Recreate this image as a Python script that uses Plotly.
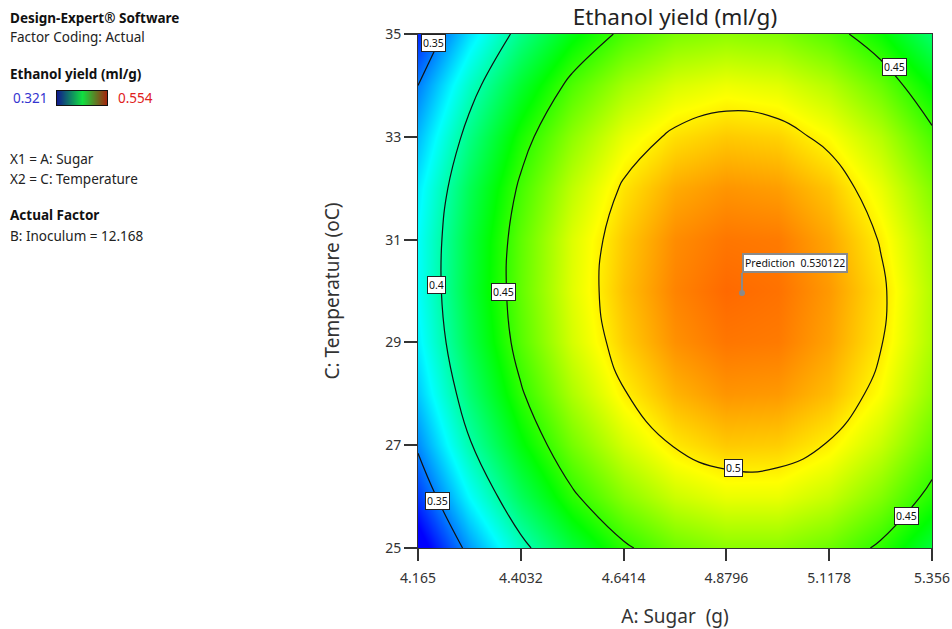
import plotly.graph_objects as go

# ---------------- data ----------------
sugar = [4.165, 4.2841, 4.4032, 4.5223, 4.6414, 4.7605, 4.8796, 4.9987, 5.1178, 5.2369, 5.356]
temperature = [25, 26, 27, 28, 29, 30, 31, 32, 33, 34, 35]
# ethanol yield (ml/g); rows = temperature, columns = sugar
yield_grid = [
    [0.311, 0.356, 0.394, 0.424, 0.447, 0.462, 0.469, 0.469, 0.462, 0.447, 0.424],
    [0.334, 0.379, 0.417, 0.447, 0.469, 0.484, 0.491, 0.491, 0.483, 0.467, 0.445],
    [0.353, 0.398, 0.435, 0.464, 0.486, 0.501, 0.508, 0.507, 0.499, 0.483, 0.460],
    [0.367, 0.411, 0.448, 0.477, 0.499, 0.513, 0.520, 0.519, 0.511, 0.495, 0.471],
    [0.376, 0.420, 0.457, 0.486, 0.507, 0.521, 0.527, 0.526, 0.517, 0.501, 0.477],
    [0.380, 0.424, 0.460, 0.489, 0.510, 0.524, 0.530, 0.528, 0.519, 0.503, 0.478],
    [0.380, 0.423, 0.459, 0.488, 0.508, 0.522, 0.527, 0.526, 0.516, 0.499, 0.475],
    [0.375, 0.418, 0.453, 0.481, 0.502, 0.515, 0.520, 0.518, 0.509, 0.491, 0.467],
    [0.364, 0.407, 0.443, 0.470, 0.491, 0.503, 0.508, 0.506, 0.496, 0.479, 0.454],
    [0.350, 0.392, 0.427, 0.455, 0.475, 0.487, 0.492, 0.489, 0.479, 0.461, 0.436],
    [0.330, 0.372, 0.407, 0.434, 0.454, 0.466, 0.470, 0.467, 0.457, 0.439, 0.413],
]
y_min, y_max = 0.321, 0.554
x_ticks = [4.165, 4.4032, 4.6414, 4.8796, 5.1178, 5.356]
x_tick_labels = ["4.165", "4.4032", "4.6414", "4.8796", "5.1178", "5.356"]
y_ticks = [25, 27, 29, 31, 33, 35]

# contour label texts and where they sit
label_text = ["0.35", "0.4", "0.45", "0.5", "0.45", "0.35", "0.45"]
label_sugar = [4.200, 4.209, 4.364, 4.895, 5.268, 4.211, 5.298]
label_temp = [34.82, 30.12, 29.98, 26.56, 34.36, 25.91, 25.62]

pred_sugar, pred_temp, pred_value = 4.9157, 29.96, 0.530122

FONT = "Noto Sans"
W, H = 952, 629
ML, MR, MT, MB = 0, 20, 34, 81
PW, PH = W - ML - MR, H - MT - MB


def px(x):
    return (x - ML) / PW


def py(y):
    return (H - MB - y) / PH


colorscale = [[0.0, "#0000ff"], [0.25, "#00ffff"], [0.5, "#00ff00"],
              [0.75, "#ffff00"], [1.0, "#ff0000"]]

fig = go.Figure()
fig.add_trace(go.Contour(
    x=sugar, y=temperature, z=yield_grid,
    colorscale=colorscale, zmin=y_min, zmax=y_max, zauto=False,
    contours=dict(coloring="heatmap", start=0.35, end=0.5, size=0.05, showlabels=False),
    line=dict(color="#111111", width=1.2, smoothing=1.3),
    showscale=False, hoverinfo="skip",
))

# prediction point
fig.add_trace(go.Scatter(x=[pred_sugar], y=[pred_temp], mode="markers",
                         marker=dict(color="#8a8a8a", size=6), showlegend=False,
                         hoverinfo="skip"))

# small legend gradient bar
fig.add_trace(go.Heatmap(z=[[y_min, y_max]], x=[0, 1], y=[0], xaxis="x2", yaxis="y2",
                         colorscale=[[0, "#101c8c"], [0.5, "#10e040"], [1, "#a8200c"]],
                         zsmooth="best", showscale=False, hoverinfo="skip"))

annotations = []
for t, xs, ys in zip(label_text, label_sugar, label_temp):
    annotations.append(dict(x=xs, y=ys, xref="x", yref="y", text=t, showarrow=False,
                            font=dict(family=FONT, size=10.5, color="#111111"),
                            bgcolor="white", bordercolor="#222222", borderwidth=1, borderpad=1))

annotations.append(dict(x=pred_sugar, y=pred_temp, xref="x", yref="y",
                        text=f"Prediction  {pred_value}", showarrow=True, arrowhead=0,
                        arrowwidth=2, arrowcolor="#8a8a8a", ax=0, ay=-20,
                        xanchor="left", yanchor="bottom",
                        font=dict(family=FONT, size=10.5, color="#111111"),
                        bgcolor="white", bordercolor="#8a8a8a", borderwidth=2, borderpad=1))

left_text = [
    ("<b>Design-Expert® Software</b>", 8, 18, "#111111"),
    ("Factor Coding: Actual", 8, 37, "#222222"),
    ("<b>Ethanol yield (ml/g)</b>", 8, 74, "#111111"),
    ("X1 = A: Sugar", 8, 159, "#222222"),
    ("X2 = C: Temperature", 8, 179, "#222222"),
    ("<b>Actual Factor</b>", 8, 215, "#111111"),
    ("B: Inoculum = 12.168", 8, 236, "#222222"),
]
for t, x, y, c in left_text:
    annotations.append(dict(x=px(x), y=py(y), xref="paper", yref="paper", text=t,
                            showarrow=False, xanchor="left", yanchor="middle",
                            font=dict(family=FONT, size=13.5, color=c)))
annotations.append(dict(x=px(50), y=py(98), xref="paper", yref="paper", text=f"{y_min}",
                        showarrow=False, xanchor="right", yanchor="middle",
                        font=dict(family=FONT, size=13.5, color="#3535d0")))
annotations.append(dict(x=px(116), y=py(98), xref="paper", yref="paper", text=f"{y_max}",
                        showarrow=False, xanchor="left", yanchor="middle",
                        font=dict(family=FONT, size=13.5, color="#e02020")))

fig.update_layout(
    width=W, height=H, margin=dict(l=ML, r=MR, t=MT, b=MB, autoexpand=False),
    paper_bgcolor="white", plot_bgcolor="white",
    font=dict(family=FONT, color="#222222"),
    title=dict(text="Ethanol yield (ml/g)", xref="paper", x=px(675), xanchor="center",
               y=1 - 17 / H, yanchor="middle", automargin=False,
               font=dict(family=FONT, size=22.5, color="#222222")),
    xaxis=dict(domain=[px(418), 1], range=[sugar[0], sugar[-1]], tickvals=x_ticks,
               ticktext=x_tick_labels, ticks="outside", ticklen=12, tickwidth=1.5,
               tickcolor="#333333", showline=True, linecolor="#333333", linewidth=1,
               mirror=True, showgrid=False, zeroline=False, automargin=False,
               ticklabelstandoff=5,
               tickfont=dict(family=FONT, size=14, color="#333333"),
               title=dict(text="A: Sugar  (g)", standoff=26,
                          font=dict(family=FONT, size=19, color="#333333"))),
    yaxis=dict(domain=[0, 1], range=[temperature[0], temperature[-1]], tickvals=y_ticks,
               ticks="outside", ticklen=13, tickwidth=1.5, tickcolor="#333333",
               showline=True, linecolor="#333333", linewidth=1, mirror=True,
               showgrid=False, zeroline=False, automargin=False,
               tickfont=dict(family=FONT, size=14, color="#333333"),
               title=dict(text="C: Temperature (oC)", standoff=40,
                          font=dict(family=FONT, size=19, color="#333333"))),
    xaxis2=dict(domain=[px(57), px(107)], anchor="y2", range=[0, 1], showticklabels=False,
                ticks="", showgrid=False, zeroline=False, showline=True, mirror=True,
                linecolor="#111111", linewidth=1, automargin=False),
    yaxis2=dict(domain=[py(105), py(91)], anchor="x2", range=[-0.5, 0.5],
                showticklabels=False, ticks="", showgrid=False, zeroline=False,
                showline=True, mirror=True, linecolor="#111111", linewidth=1,
                automargin=False),
    annotations=annotations,
    showlegend=False,
)

fig.write_html("out.html")
